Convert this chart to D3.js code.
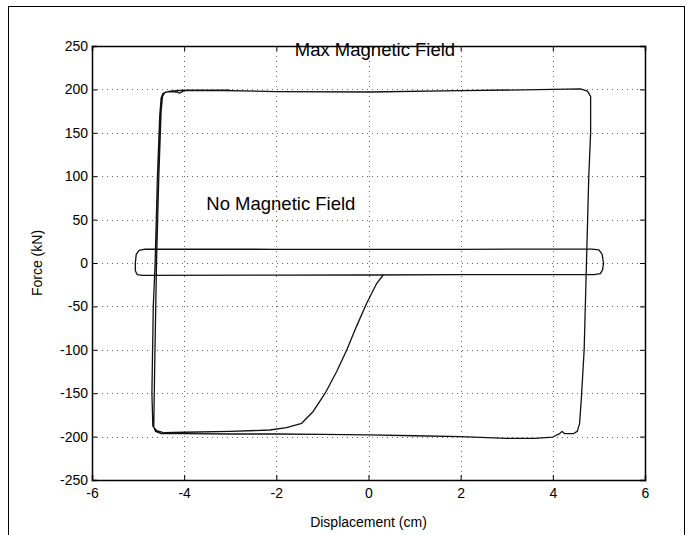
<!DOCTYPE html>
<html>
<head>
<meta charset="utf-8">
<script src="https://cdn.jsdelivr.net/npm/d3@7"></script>
<style>
  body { margin: 0; background: #fff; }
  text { font-family: "Liberation Sans", Arial, Helvetica, sans-serif; fill: #000; }
</style>
</head>
<body>
<div id="chart"></div>
<script>
// Axis ticks
const xTicks = [-6, -4, -2, 0, 2, 4, 6];
const yTicks = [-250, -200, -150, -100, -50, 0, 50, 100, 150, 200, 250];

// Initial loading curve (starts on the no-field loop, runs down to the left)
const virginX = [0.32, 0.18, -0.04, -0.26, -0.47, -0.69, -0.94, -1.20, -1.45, -1.78, -2.14, -3.0, -4.0, -4.45];
const virginY = [-13.8, -23.4, -46.4, -73, -100, -125, -150, -171, -184.7, -189.7, -192.4, -194, -195, -195.5];

// Max magnetic field loop (left side up, top, right side down, bottom back, left side again)
const maxX = [-4.45, -4.6, -4.68, -4.7, -4.67, -4.63, -4.58, -4.53, -4.5, -4.46, -4.35, -4.15, -4.1, -4.0, -3.5, -2, 0, 2, 4, 4.6, 4.75, 4.82, 4.82, 4.78, 4.73, 4.68, 4.62, 4.58, 4.53, 4.45, 4.25, 4.2, 4.15, 4.0, 3.6, 3.0, 2.0, 1.0, 0, -1, -2, -3, -4, -4.5, -4.62, -4.66, -4.64, -4.6, -4.55, -4.5, -4.47, -4.42, -4.3, -4.0, -3.0];
const maxY = [-195.5, -193, -188, -150, -50, 0, 100, 170, 190, 195.5, 197.5, 197, 195.5, 198.5, 199, 197.5, 197, 198.5, 200, 200.5, 198, 192, 150, 100, 0, -100, -155, -185, -194, -196.5, -196.5, -194, -196.5, -200.5, -202, -202, -200, -199, -198, -197.5, -197, -197, -196.5, -196.5, -194, -189, -120, 0, 100, 175, 192, 196.5, 198, 199, 199];

// No magnetic field loop
const noX = [-4.85, -2, 0, 2, 4.85, 5.0, 5.07, 5.1, 5.08, 5.03, 4.9, 2, 0, -2, -4.9, -5.02, -5.06, -5.06, -5.04, -4.98, -4.85];
const noY = [16, 15.8, 15.6, 15.8, 16, 15, 10, 0, -8, -12.3, -13.5, -13.5, -13.8, -14, -14.2, -13.3, -9, 0, 10, 14.5, 16];

const width = 691;
const height = 535;
const marginTop = 46;
const marginRight = 46;
const marginBottom = 55;
const marginLeft = 92;

const x = d3.scaleLinear()
    .domain([-6, 6])
    .range([marginLeft, width - marginRight]);

const y = d3.scaleLinear()
    .domain([-250, 250])
    .range([height - marginBottom, marginTop]);

const svg = d3.create("svg")
    .attr("width", width)
    .attr("height", height)
    .attr("viewBox", [0, 0, width, height]);

svg.append("rect")
    .attr("width", width)
    .attr("height", height)
    .attr("fill", "#fff");

// Figure frame
svg.append("rect")
    .attr("x", 8.5)
    .attr("y", 6.5)
    .attr("width", 676)
    .attr("height", 540)
    .attr("fill", "none")
    .attr("stroke", "#000")
    .attr("stroke-width", 1);

// Dotted grid
const grid = svg.append("g")
    .attr("stroke", "#666")
    .attr("stroke-width", 1)
    .attr("stroke-dasharray", "1,4");

grid.selectAll(".gx")
    .data(xTicks.slice(1, -1))
    .join("line")
        .attr("x1", d => Math.round(x(d)) + 0.5)
        .attr("x2", d => Math.round(x(d)) + 0.5)
        .attr("y1", y(250))
        .attr("y2", y(-250));

grid.selectAll(".gy")
    .data(yTicks.slice(1, -1))
    .join("line")
        .attr("y1", d => Math.round(y(d)) + 0.5)
        .attr("y2", d => Math.round(y(d)) + 0.5)
        .attr("x1", x(-6))
        .attr("x2", x(6));

// Axes: ticks inside on all four sides
const tickLen = 5;
svg.append("g")
    .attr("transform", `translate(0,${y(-250)})`)
    .call(d3.axisBottom(x).tickValues(xTicks).tickSize(-tickLen).tickPadding(8).tickFormat(d => String(d)))
    .call(g => g.selectAll("text").attr("font-size", 14).attr("font-family", "Liberation Sans, Arial, sans-serif"));

svg.append("g")
    .attr("transform", `translate(0,${y(250)})`)
    .call(d3.axisTop(x).tickValues(xTicks).tickSize(-tickLen).tickFormat(""));

svg.append("g")
    .attr("transform", `translate(${x(-6)},0)`)
    .call(d3.axisLeft(y).tickValues(yTicks).tickSize(-tickLen).tickPadding(4).tickFormat(d => String(d)))
    .call(g => g.selectAll("text").attr("font-size", 14).attr("font-family", "Liberation Sans, Arial, sans-serif"));

svg.append("g")
    .attr("transform", `translate(${x(6)},0)`)
    .call(d3.axisRight(y).tickValues(yTicks).tickSize(-tickLen).tickFormat(""));

svg.selectAll(".domain").attr("stroke", "#000").attr("stroke-width", 1.5);
svg.selectAll(".tick line").attr("stroke", "#000");

// Curves
const line = d3.line()
    .x(d => x(d[0]))
    .y(d => y(d[1]));

const curves = [
    d3.zip(noX, noY),
    d3.zip(maxX, maxY),
    d3.zip(virginX, virginY)
];

svg.append("g")
    .selectAll("path")
    .data(curves)
    .join("path")
        .attr("d", line)
        .attr("fill", "none")
        .attr("stroke", "#111")
        .attr("stroke-width", 1.3)
        .attr("stroke-linejoin", "round");

// Labels
svg.append("text")
    .attr("x", (x(-6) + x(6)) / 2)
    .attr("y", 527)
    .attr("text-anchor", "middle")
    .attr("font-size", 14)
    .text("Displacement (cm)");

svg.append("text")
    .attr("transform", `translate(42,${(y(-250) + y(250)) / 2}) rotate(-90)`)
    .attr("text-anchor", "middle")
    .attr("font-size", 14)
    .text("Force (kN)");

svg.append("text")
    .attr("x", x(-1.6))
    .attr("y", y(239))
    .attr("font-size", 18.5)
    .text("Max Magnetic Field");

svg.append("text")
    .attr("x", x(-3.52))
    .attr("y", y(61))
    .attr("font-size", 18.5)
    .text("No Magnetic Field");

document.getElementById("chart").appendChild(svg.node());
</script>
</body>
</html>
